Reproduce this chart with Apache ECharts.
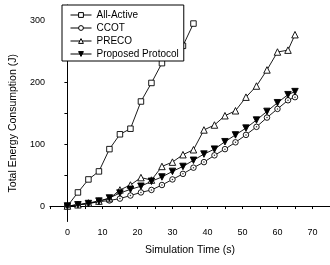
<!DOCTYPE html>
<html>
<head>
<meta charset="utf-8">
<script src="https://cdn.jsdelivr.net/npm/echarts@6/dist/echarts.min.js"></script>
<style>html,body{margin:0;padding:0;background:#fff;}#c{width:330px;height:265px;}</style>
</head>
<body>
<div id="c"></div>
<script>
const times = [0,3,6,9,12,15,18,21,24,27,30,33,36,39,42,45,48,51,54,57,60,63,65];
const allActive = [0,22,43,56,92,116,125,169,199,231,246,259,295];
const ccot = [0,2,4,7,9,12,17,22,26,34,43,52,62,71,82,92,103,115,128,143,157,171,176];
const preco = [0,2,5,8,12,26,34,46,42,64,71,83,91,123,131,146,154,176,194,220,249,252,277];
const proposed = [0,2,4,8,13,21,27,32,40,47,56,64,74,84,92,104,115,126,139,153,167,180,185];
const seriesNames = ['All-Active','CCOT','PRECO','Proposed Protocol'];
const xTickValues = [-5,0,5,10,15,20,25,30,35,40,45,50,55,60,65,70,75];
const xLabelValues = [0,10,20,30,40,50,60,70];
const yTickValues = [0,50,100,150,200,250,300];
const yLabelValues = [0,100,200,300];

const pairs = (ys) => ys.map((y, i) => [times[i], y]);
const font = 'Liberation Sans, Arial, sans-serif';
const base = (name, ys, symbol, size, fill, extra) => Object.assign({
  name, type: 'line', data: pairs(ys), symbol, symbolSize: size,
  showAllSymbol: true,
  lineStyle: { color: '#000', width: 0.9 },
  itemStyle: { color: fill, borderColor: '#000', borderWidth: 0.9 },
  emphasis: { disabled: true }, animation: false
}, extra || {});

const chart = echarts.init(document.getElementById('c'), null, { renderer: 'canvas' });
chart.setOption({
  animation: false,
  grid: { left: 46, top: 5, width: 300, bottom: 43.5 },
  legend: {
    data: seriesNames, orient: 'vertical', left: 62, top: 5,
    backgroundColor: '#fff', borderColor: '#000', borderWidth: 1,
    padding: [5, 5, 2, 8], itemGap: 3, itemWidth: 21, itemHeight: 6, z: 10,
    itemStyle: { borderWidth: 1 }, lineStyle: { width: 1 },
    textStyle: { fontFamily: font, fontSize: 10, color: '#000', lineHeight: 10 },
    selectedMode: false
  },
  xAxis: {
    type: 'value', min: -5, max: 75,
    name: 'Simulation Time (s)', nameLocation: 'middle', nameGap: 23,
    nameTextStyle: { fontFamily: font, fontSize: 10.5, color: '#000' },
    axisLine: { show: true, lineStyle: { color: '#000', width: 1 } },
    axisTick: { show: true, length: 3, customValues: xTickValues, lineStyle: { color: '#000' } },
    axisLabel: { customValues: xLabelValues, fontFamily: font, fontSize: 9, color: '#000', margin: 7 },
    splitLine: { show: false }
  },
  yAxis: {
    type: 'value', min: -25, max: 325,
    name: 'Total Energy Consumption (J)', nameLocation: 'middle', nameGap: 28, nameRotate: 90,
    nameTextStyle: { fontFamily: font, fontSize: 10.5, color: '#000', padding: [0, 20, 0, 0] },
    axisLine: { show: true, lineStyle: { color: '#000', width: 1 } },
    axisTick: { show: true, length: 3, customValues: yTickValues, lineStyle: { color: '#000' } },
    axisLabel: { customValues: yLabelValues, fontFamily: font, fontSize: 9, color: '#000', margin: 5 },
    splitLine: { show: false }
  },
  series: [
    base('All-Active', allActive, 'rect', 5.5, '#fff'),
    base('CCOT', ccot, 'circle', 5.5, '#fff'),
    base('PRECO', preco, 'triangle', 6.5, '#fff'),
    base('Proposed Protocol', proposed, 'triangle', 6.5, '#000', { symbolRotate: 180 }),
    { name: 'CCOT-dot', type: 'scatter', data: pairs(ccot), symbol: 'circle', symbolSize: 1.5,
      itemStyle: { color: '#000' }, z: 3, silent: true, animation: false }
  ]
});
</script>
</body>
</html>
